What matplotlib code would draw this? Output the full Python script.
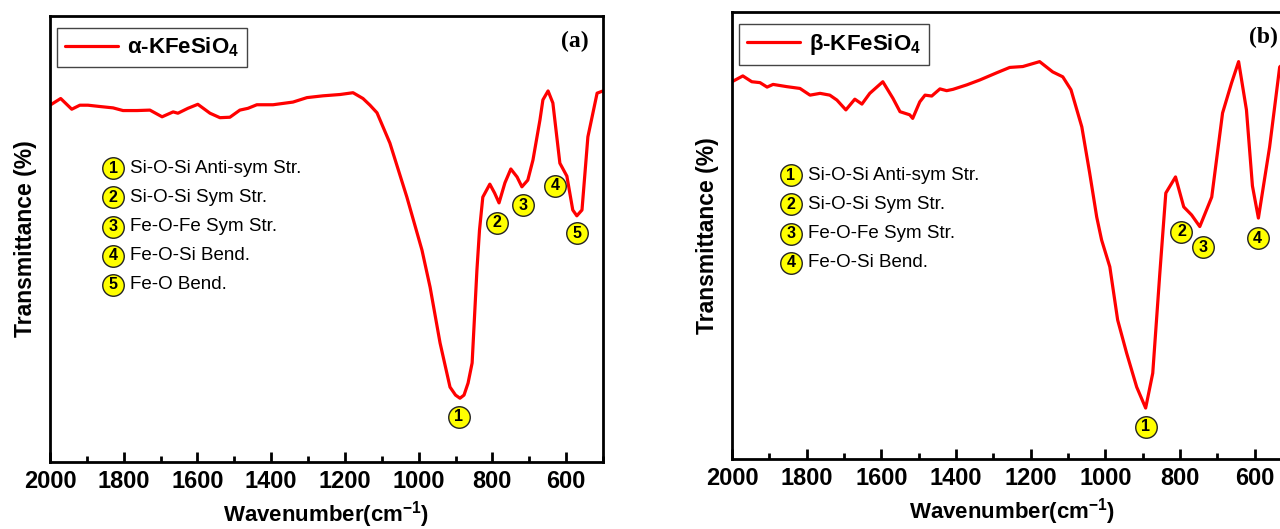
import numpy as np
import matplotlib.pyplot as plt
from matplotlib.ticker import MultipleLocator

plt.rcParams['font.family'] = ['Liberation Sans', 'DejaVu Sans']
plt.rcParams['mathtext.fontset'] = 'custom'
plt.rcParams['mathtext.rm'] = 'Liberation Sans'
plt.rcParams['mathtext.bf'] = 'Liberation Sans:bold'

# ---- (a) alpha-KFeSiO4 ----
wn_a = [2000, 1971, 1941, 1919, 1897, 1864, 1829, 1802, 1764, 1729,
        1696, 1666, 1653, 1626, 1599, 1566, 1539, 1512, 1485, 1463,
        1439, 1395, 1341, 1303, 1260, 1213, 1178, 1151, 1132, 1113,
        1078, 1032, 991, 969, 942, 915, 900, 888, 877, 866,
        855, 842, 835, 826, 807, 794, 782, 766, 750, 733,
        720, 704, 690, 671, 663, 649, 636, 617, 598, 582,
        571, 557, 541, 516, 500]
T_a = [80.0, 81.5, 79.1, 80.0, 80.0, 79.7, 79.4, 78.8, 78.8, 78.9,
       77.4, 78.5, 78.2, 79.3, 80.2, 78.2, 77.2, 77.3, 78.9, 79.3,
       80.1, 80.1, 80.7, 81.7, 82.1, 82.4, 82.8, 81.5, 80.0, 78.3,
       71.5, 59.4, 47.5, 39.2, 26.7, 16.8, 15.0, 14.3, 15.0, 17.7,
       22.2, 43.0, 52.0, 59.4, 62.3, 60.3, 58.1, 62.6, 65.7, 63.9,
       61.7, 63.2, 67.7, 76.7, 81.2, 83.2, 80.5, 67.0, 64.1, 56.5,
       55.2, 56.5, 72.9, 82.7, 83.2]

# ---- (b) beta-KFeSiO4 ----
wn_b = [2000, 1971, 1947, 1925, 1906, 1890, 1853, 1818, 1791, 1764,
        1738, 1719, 1695, 1671, 1652, 1631, 1596, 1569, 1550, 1524,
        1516, 1497, 1483, 1465, 1443, 1425, 1408, 1371, 1336, 1291,
        1256, 1221, 1176, 1141, 1114, 1092, 1063, 1042, 1023, 1010,
        988, 967, 943, 916, 892, 873, 854, 838, 812, 790,
        769, 747, 715, 686, 662, 643, 622, 606, 590, 560,
        533, 515, 500]
T_b = [84.4, 85.7, 84.4, 84.2, 83.2, 83.8, 83.3, 82.9, 81.4, 81.8,
       81.4, 80.3, 78.1, 80.5, 79.4, 81.8, 84.4, 80.7, 77.7, 77.0,
       76.2, 79.9, 81.4, 81.2, 82.8, 82.4, 82.7, 83.7, 84.8, 86.4,
       87.6, 87.8, 88.9, 86.6, 85.5, 82.6, 74.3, 64.0, 54.1, 49.0,
       43.0, 31.1, 23.7, 16.1, 11.4, 19.2, 41.6, 59.5, 63.1, 56.4,
       54.6, 52.0, 58.6, 77.4, 84.1, 88.9, 78.1, 61.1, 53.9, 69.8,
       87.7, 89.0, 88.0]

# band labels (numbered circles) placed next to the bands
peaks_a = ['1', '2', '3', '4', '5']
peak_wn_a = [891, 788, 717, 630, 571]
peak_T_a = [10.1, 53.6, 57.6, 61.9, 51.3]
peaks_b = ['1', '2', '3', '4']
peak_wn_b = [892, 796, 739, 592]
peak_T_b = [7.2, 50.8, 47.4, 49.4]

notes_a = ['Si-O-Si Anti-sym Str.', 'Si-O-Si Sym Str.', 'Fe-O-Fe Sym Str.',
           'Fe-O-Si Bend.', 'Fe-O Bend.']
notes_b = ['Si-O-Si Anti-sym Str.', 'Si-O-Si Sym Str.', 'Fe-O-Fe Sym Str.',
           'Fe-O-Si Bend.']


def circled(ax, x, y, s, transform=None):
    kw = {} if transform is None else {'transform': transform}
    ax.scatter([x], [y], s=240, c='#ffff00', edgecolors='#222222',
               linewidths=1.0, zorder=5, clip_on=False, **kw)
    ax.text(x, y, s, ha='center', va='center', fontsize=11.5, fontweight='bold',
            zorder=6, **kw)


def panel(ax, wn, T, label, tag, peaks, pwn, pT, notes, note_x, note_y0, w_px, h_px):
    ax.plot(wn, T, color='#ff0000', lw=2.3, label=label,
            solid_joinstyle='round', solid_capstyle='round')
    ax.set_xlim(2000, 500)
    ax.set_ylim(0, 100)
    ax.xaxis.set_major_locator(MultipleLocator(200))
    ax.xaxis.set_minor_locator(MultipleLocator(100))
    ax.set_yticks([])
    ax.tick_params(axis='x', which='major', direction='in', length=7, width=2,
                   pad=6, labelsize=17)
    ax.tick_params(axis='x', which='minor', direction='in', length=4, width=2)
    for lab in ax.get_xticklabels():
        lab.set_fontweight('bold')
    for sp in ax.spines.values():
        sp.set_linewidth(2)
    ax.set_xlabel(r'Wavenumber(cm$^{\mathbf{-1}}$)', fontsize=16, fontweight='bold')
    ax.set_ylabel('Transmittance (%)', fontsize=16.5, fontweight='bold')
    ax.xaxis.set_label_coords(0.5, -37 / h_px)
    ax.yaxis.set_label_coords(-13 / w_px, 0.5)
    leg = ax.legend(loc='upper left', bbox_to_anchor=(7 / w_px, 1 - 12 / h_px),
                    borderaxespad=0, fancybox=False, framealpha=1,
                    edgecolor='#444444', handlelength=2.4, handletextpad=0.4,
                    borderpad=0.35, prop={'weight': 'bold', 'size': 16})
    leg.get_frame().set_linewidth(1.0)
    ax.text(0.949, 0.942, tag, transform=ax.transAxes, ha='center', va='center',
            fontsize=17, fontweight='bold', family='Liberation Serif')
    for s, x, y in zip(peaks, pwn, pT):
        circled(ax, x, y, s)
    for i, n in enumerate(notes):
        y = note_y0 - i * 0.0655
        circled(ax, note_x, y, str(i + 1), transform=ax.transAxes)
        ax.text(note_x + 0.031, y, n, transform=ax.transAxes, ha='left',
                va='center', fontsize=13.5)


fig = plt.figure(figsize=(12.8, 5.29), dpi=100)
ax_a = fig.add_axes([50 / 1280, 67 / 529, 553 / 1280, 446 / 529])
ax_b = fig.add_axes([732 / 1280, 70 / 529, 560 / 1280, 447 / 529])

panel(ax_a, wn_a, T_a, '\u03b1-KFeSiO$_\\mathbf{4}$', '(a)', peaks_a, peak_wn_a,
      peak_T_a, notes_a, 0.114, 0.659, 553, 446)
panel(ax_b, wn_b, T_b, '\u03b2-KFeSiO$_\\mathbf{4}$', '(b)', peaks_b, peak_wn_b,
      peak_T_b, notes_b, 0.105, 0.635, 560, 447)

fig.savefig('out.png', dpi=100)
